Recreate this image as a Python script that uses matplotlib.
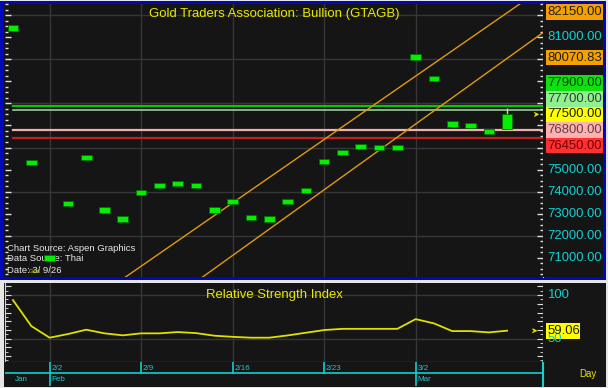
import numpy as np
import matplotlib
matplotlib.use('Agg')
import matplotlib.pyplot as plt
from matplotlib.patches import Rectangle
from matplotlib.ticker import MultipleLocator
from matplotlib import font_manager

# ---------------- data ----------------
dates = ['1/29', '1/30', '2/2', '2/3', '2/4', '2/5', '2/6', '2/9', '2/10', '2/11', '2/12', '2/13',
         '2/16', '2/17', '2/18', '2/19', '2/20', '2/23', '2/24', '2/25', '2/26', '2/27',
         '3/2', '3/3', '3/4', '3/5', '3/6', '3/9']
opens = [81410, 75320, 71000, 73470, 75560, 73170, 72760, 73970, 74270, 74360, 74270, 73170,
         73560, 72820, 72760, 73560, 74060, 75360, 75760, 76060, 76010, 76010,
         80100, 79120, 77060, 77010, 76730, 76850]
closes = [81410, 75320, 71000, 73470, 75560, 73170, 72760, 73970, 74270, 74360, 74270, 73170,
          73560, 72820, 72760, 73560, 74060, 75360, 75760, 76060, 76010, 76010,
          80100, 79120, 77060, 77010, 76730, 77500]
highs = [81410, 75320, 71000, 73470, 75560, 73170, 72760, 73970, 74270, 74360, 74270, 73170,
         73560, 72820, 72760, 73560, 74060, 75360, 75760, 76060, 76010, 76010,
         80100, 79120, 77060, 77010, 76730, 77770]
rsi = [94.3, 64.4, 51.0, 55.2, 60.2, 56.0, 53.7, 56.0, 56.0, 57.5, 56.3, 53.3,
       52.0, 51.0, 51.0, 53.6, 56.7, 59.8, 61.2, 61.2, 61.2, 61.2,
       72.4, 67.5, 58.6, 58.6, 57.1, 59.06]

level_values = [82150.00, 80070.83, 77900.00, 77700.00, 77500.00, 76800.00, 76450.00]
level_text = ['82150.00', '80070.83', '77900.00', '77700.00', '77500.00', '76800.00', '76450.00']
level_bg = ['#f5a000', '#f5a000', '#10e010', '#90f090', '#ffff00', '#ffb0b0', '#ff3030']
level_fg = ['#202020', '#202020', '#004000', '#304030', '#202000', '#604040', '#700000']
hlines_values = [77900, 77700, 76800, 76450]
hlines_colors = ['#10c010', '#a0e0a0', '#f0b0b0', '#c02020']
last_price = 77500.00

upper_trend_x = [0, 29]
upper_trend_y = [66606, 83252]
lower_trend_x = [0, 29]
lower_trend_y = [63970, 81229]

price_ticks = [71000, 72000, 73000, 74000, 75000, 76000, 77000, 78000, 79000, 80000, 81000, 82000]
week_starts = [2, 7, 12, 17, 22]
week_labels = ['2/2', '2/9', '2/16', '2/23', '3/2']
month_pos = [0, 2, 22]
month_labels = ['Jan', 'Feb', 'Mar']
rsi_last = 59.06

# ---------------- fonts ----------------
names = {f.name for f in font_manager.fontManager.ttflist}
NARROW = 'Liberation Sans Narrow' if 'Liberation Sans Narrow' in names else 'Liberation Sans'
NSCALE = 1.0 if NARROW == 'Liberation Sans Narrow' else 0.82
REG = 'Liberation Sans'

W, H = 608, 388
fig = plt.figure(figsize=(W / 100, H / 100), dpi=100, facecolor='#e6e6e6')

def px_axes(x0, y0, x1, y1, fc='#151515', z=0):
    a = fig.add_axes([x0 / W, 1 - y1 / H, (x1 - x0) / W, (y1 - y0) / H], zorder=z)
    a.set_facecolor(fc)
    return a

def blank(a):
    a.set_xticks([]); a.set_yticks([])
    for s in a.spines.values():
        s.set_visible(False)

BG = '#151515'
YEL = '#e8e800'
CYAN = '#10d0d0'

# blue frame of main panel
fr = px_axes(0, 1, 606, 280, fc='#0008b8', z=0); blank(fr)
inner = px_axes(4, 4, 603, 277, fc=BG, z=1); blank(inner)

XL = (-0.437, 28.96)
YL = (70136, 82500)
x = np.arange(len(closes))

# ---------------- main price axes ----------------
ax = px_axes(5, 4, 543, 277, fc=BG, z=2)
ax.set_xlim(*XL); ax.set_ylim(*YL)
for v in [72000, 74000, 76000, 78000, 80000, 82000]:
    ax.axhline(v, color='#363636', lw=1, zorder=0.5)
for i in week_starts:
    ax.axvline(i, color='#363636', lw=1, zorder=0.5)
for s in ['top', 'bottom', 'left']:
    ax.spines[s].set_visible(False)
ax.spines['right'].set_color('#c8c8c8')
ax.yaxis.set_major_locator(MultipleLocator(1000))
ax.yaxis.set_minor_locator(MultipleLocator(250))
ax.tick_params(axis='y', which='both', left=True, right=True, direction='in',
               colors='#e0e0e0', labelleft=False, labelright=False)
ax.tick_params(axis='y', which='major', length=4, width=1)
ax.tick_params(axis='y', which='minor', length=2, width=1)
ax.set_xticks([])

for v, c in zip(hlines_values, hlines_colors):
    ax.plot([0, XL[1]], [v, v], color=c, lw=1.6 if c != '#a0e0a0' else 1.1, zorder=1.5)

ax.plot(upper_trend_x, upper_trend_y, color='#e09a10', lw=1.0, zorder=1.6)
ax.plot(lower_trend_x, lower_trend_y, color='#e09a10', lw=1.0, zorder=1.6)

o = np.array(opens, float); c = np.array(closes, float); hi = np.array(highs, float)
minh = 240
lo_b = np.minimum(o, c); hi_b = np.maximum(o, c)
mid = (lo_b + hi_b) / 2
hgt = np.maximum(hi_b - lo_b, minh)
bot = np.where(hi_b - lo_b < minh, mid - minh / 2, lo_b)
ax.vlines(x, bot + hgt, np.maximum(hi, bot + hgt), color='#e8e060', lw=1, zorder=2.5)
ax.bar(x, hgt, bottom=bot, width=0.58, color='#00f000', edgecolor='#007000', lw=0.6, zorder=3)

ax.text(0.5, 0.965, 'Gold Traders Association: Bullion (GTAGB)', transform=ax.transAxes,
        ha='center', va='center', color=YEL, fontsize=11.5 * NSCALE, family=NARROW, zorder=4)
ax.text(0.004, 0.106, 'Chart Source: Aspen Graphics', transform=ax.transAxes, ha='left', va='center',
        color='#e8e8e8', fontsize=6.8, family=REG, zorder=2)
ax.text(0.004, 0.066, 'Data Source: Thai', transform=ax.transAxes, ha='left', va='center',
        color='#e8e8e8', fontsize=6.8, family=REG, zorder=2)
ax.text(0.004, 0.022, 'Date: 3/ 9/26', transform=ax.transAxes, ha='left', va='center',
        color='#e8e8e8', fontsize=6.8, family=REG, zorder=2)
ax.text(0.045, 0.020, 'Gold', transform=ax.transAxes, ha='left', va='center',
        color='#c8c800', fontsize=4.0, family=REG, zorder=2.1)
ax.annotate('', xy=(XL[1] - 0.05, last_price), xytext=(XL[1] - 0.55, last_price),
            arrowprops=dict(arrowstyle='->', color=YEL, lw=0.9, mutation_scale=6), zorder=4)

# ---------------- price label column ----------------
la = px_axes(543, 4, 603, 277, fc=BG, z=3); blank(la)
la.set_xlim(0, 60); la.set_ylim(*YL)
axh = 273.0
def to_px(v):
    return (v - YL[0]) / (YL[1] - YL[0]) * axh
def to_val(p):
    return YL[0] + p / axh * (YL[1] - YL[0])
bh = 15.6
pos = {}
order = sorted(range(len(level_values)), key=lambda k: -level_values[k])
anchor = level_values.index(last_price)
pos[anchor] = to_px(last_price)
above = [k for k in order if level_values[k] > last_price][::-1]
below = [k for k in order if level_values[k] < last_price]
prev = pos[anchor]
for k in above:
    p = max(to_px(level_values[k]), prev + bh)
    pos[k] = p; prev = p
prev = pos[anchor]
for k in below:
    p = min(to_px(level_values[k]), prev - bh)
    pos[k] = p; prev = p

def covered(p, half=5.0):
    # is [p-half, p+half] inside the union of label boxes?
    lo, hi_ = p - half, p + half
    segs = sorted((pos[k] - bh / 2, pos[k] + bh / 2) for k in pos)
    cur = lo
    for a, b in segs:
        if a <= cur + 0.3 and b >= cur:
            cur = max(cur, b)
    return cur >= hi_

for v in price_ticks:
    if covered(to_px(v)):
        continue
    la.text(4, v, f'{v:.2f}', ha='left', va='center', color=CYAN, fontsize=11.5 * NSCALE,
            family=NARROW, zorder=1)
for k in range(len(level_values)):
    yc = to_val(pos[k])
    y0 = to_val(pos[k] - bh / 2)
    y1 = to_val(pos[k] + bh / 2)
    la.add_patch(Rectangle((2.5, y0), 57.5, y1 - y0, facecolor=level_bg[k], edgecolor='none', zorder=2))
    la.text(4, yc, level_text[k], ha='left', va='center', color=level_fg[k],
            fontsize=11.5 * NSCALE, family=NARROW, zorder=3)

# ---------------- RSI panel ----------------
rp = px_axes(4, 283, 606, 387, fc=BG, z=1); blank(rp)
RYL = (23, 114)
ra = px_axes(5, 283, 543, 362, fc=BG, z=2)
ra.set_xlim(*XL); ra.set_ylim(*RYL)
for v in [50, 100]:
    ra.axhline(v, color='#363636', lw=1, zorder=0.5)
for i in week_starts:
    ra.axvline(i, color='#363636', lw=1, zorder=0.5)
ra.spines['top'].set_visible(False)
for s in ['bottom', 'left', 'right']:
    ra.spines[s].set_color('#d0d0d0')
ra.yaxis.set_major_locator(MultipleLocator(10))
ra.yaxis.set_minor_locator(MultipleLocator(5))
ra.tick_params(axis='y', which='both', left=True, right=True, direction='in',
               colors='#e0e0e0', labelleft=False, labelright=False)
ra.tick_params(axis='y', which='major', length=4)
ra.tick_params(axis='y', which='minor', length=2)
ra.set_xticks([])
ra.plot(x, rsi, color='#e0e000', lw=1.3, zorder=3)
ra.text(0.5, 0.848, 'Relative Strength Index', transform=ra.transAxes, ha='center', va='center',
        color=YEL, fontsize=11.5 * NSCALE, family=NARROW, zorder=4)
ra.annotate('', xy=(XL[1] - 0.15, rsi_last), xytext=(XL[1] - 0.65, rsi_last),
            arrowprops=dict(arrowstyle='->', color=YEL, lw=0.9, mutation_scale=6), zorder=4)

rl = px_axes(543, 283, 603, 362, fc=BG, z=3); blank(rl)
rl.set_xlim(0, 60); rl.set_ylim(*RYL)
rl.text(5, 100, '100', ha='left', va='center', color=CYAN, fontsize=11.5 * NSCALE, family=NARROW)
rl.text(5, 50, '50', ha='left', va='center', color=CYAN, fontsize=11.5 * NSCALE, family=NARROW)
rl.add_patch(Rectangle((3, rsi_last - 9.2), 34, 18.4, facecolor='#ffff00', edgecolor='none', zorder=2))
rl.text(5, rsi_last, f'{rsi_last:.2f}', ha='left', va='center', color='#202000',
        fontsize=11.5 * NSCALE, family=NARROW, zorder=3)

# ---------------- time axis ----------------
ta = px_axes(5, 362, 543, 386, fc=BG, z=2); blank(ta)
ta.set_xlim(*XL); ta.set_ylim(0, 24)
ta.axhline(13, color=CYAN, lw=1.2)
for i, lab in zip(week_starts, week_labels):
    ta.plot([i, i], [13, 24], color=CYAN, lw=1.2)
    ta.text(i + 0.1, 17.5, lab, ha='left', va='center', color=CYAN, fontsize=7 * NSCALE, family=NARROW)
for i, lab in zip(month_pos, month_labels):
    if i > 0:
        ta.plot([i, i], [0, 13], color=CYAN, lw=1.2)
    ta.text(i + 0.1, 6.5, lab, ha='left', va='center', color=CYAN, fontsize=7 * NSCALE, family=NARROW)
ta.plot([XL[1], XL[1]], [0, 24], color=CYAN, lw=1.5, clip_on=False)
fig.text(588 / W, 1 - 374 / H, 'Day', ha='center', va='center', color=YEL,
         fontsize=8.5 * NSCALE, family=NARROW)

fig.savefig('out.png', dpi=100, facecolor=fig.get_facecolor())
